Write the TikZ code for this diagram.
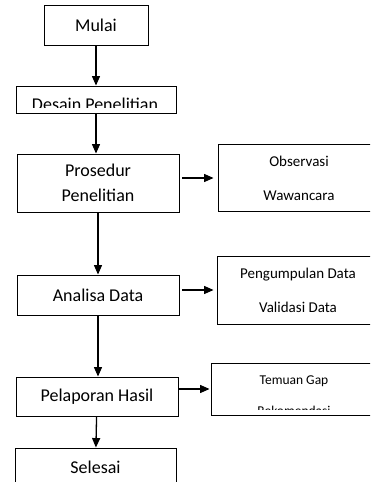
\documentclass[tikz,border=0pt]{standalone}
\usepackage{fontspec}
\setmainfont{Carlito}
\usetikzlibrary{arrows.meta, positioning}

\begin{document}
\begin{tikzpicture}[
    x=1pt, y=-1pt,
    box/.style={draw, line width=0.9pt, align=center, inner sep=0pt},
    big/.style={font=\fontsize{18}{25}\selectfont},
    small/.style={font=\fontsize{15}{34}\selectfont},
    tiny/.style={font=\fontsize{13.5}{31}\selectfont},
    flow/.style={-{Triangle[length=9.5pt,width=8pt]}, line width=1.3pt}
  ]
    \useasboundingbox (0,0) rectangle (370,482);
    \clip (0,0) rectangle (370,482);

    % main column
    \node[box, big, minimum width=104pt, minimum height=40pt] (mulai) at (96,25) {Mulai};
    \node[box, minimum width=160pt, minimum height=27pt] (desain) at (96,99.5) {};
    \node[box, big, minimum width=162pt, minimum height=58pt] (prosedur) at (98,183) {Prosedur\\Penelitian};
    \node[box, big, minimum width=162pt, minimum height=40pt] (analisa) at (98,295) {Analisa Data};
    \node[box, big, minimum width=162pt, minimum height=39pt] (pelaporan) at (97,396.5) {Pelaporan Hasil};
    \node[box, big, minimum width=161pt, minimum height=38pt] (selesai) at (95.5,467) {Selesai};

    % side boxes
    \node[box, small, minimum width=162pt, minimum height=67pt] (observasi) at (299,178) {Observasi\\Wawancara};
    \node[box, small, minimum width=162pt, minimum height=68pt] (pengumpulan) at (298,290) {Pengumpulan Data\\Validasi Data};
    \node[box, minimum width=169pt, minimum height=52pt] (temuan) at (295.5,389) {};

    % texts cut by their boxes
    \begin{scope}
      \clip (16,86) rectangle (176,107.3);
      \node[big, anchor=base, inner sep=0pt] (desaintxt) at (95,110) {Desain Penelitian};
    \end{scope}
    \begin{scope}
      \clip (211,363) rectangle (380,409.3);
      \node[tiny, anchor=base, inner sep=0pt] (temuantxt) at (294,384) {Temuan Gap};
      \node[tiny, anchor=base, inner sep=0pt] (rekomtxt) at (294,415.5) {Rekomendasi};
    \end{scope}

    \draw[flow] (mulai) -- (desain);
    \draw[flow] (desain.south) -- (desain.south |- prosedur.north);
    \draw[flow] (prosedur) -- (analisa);
    \draw[flow] (analisa.south) -- (analisa.south |- pelaporan.north);
    \draw[flow] (pelaporan) -- (selesai);
    \draw[flow, shorten <=3pt, shorten >=4pt] (prosedur.east |- observasi.west) -- (observasi.west);
    \draw[flow, shorten <=3pt, shorten >=3pt] (analisa.east |- pengumpulan.west) -- (pengumpulan.west);
    \draw[flow, shorten <=1pt, shorten >=1pt] (pelaporan.east |- temuan.west) -- (temuan.west);
  \end{tikzpicture}
\end{document}
